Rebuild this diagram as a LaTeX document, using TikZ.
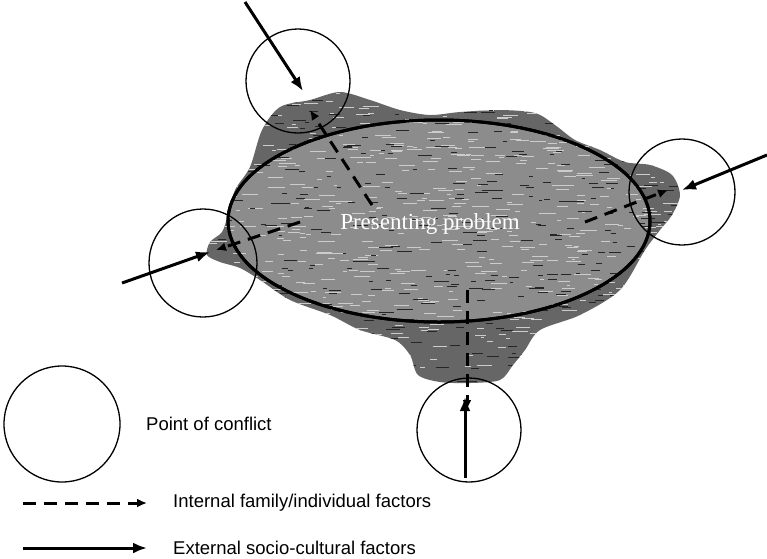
\documentclass[tikz,border=0pt]{standalone}
\usepackage{fontspec}
\setmainfont{Liberation Sans}
\newfontfamily\probfont{Liberation Serif}
\usetikzlibrary{arrows.meta,shapes.geometric}

\tikzset{
  conflict/.style={circle, draw, line width=1.3pt, minimum size=#1, inner sep=0pt},
  external/.style={line width=3pt, -{Latex[length=14pt,width=11pt]}},
  internal/.style={line width=3pt, dash pattern=on 13pt off 8pt, -{Latex[length=10pt,width=9pt]}},
  legendtext/.style={anchor=west, inner sep=0pt, font=\fontsize{18.5}{22}\selectfont},
}

\begin{document}
\begin{tikzpicture}[x=1pt,y=-1pt]
    \useasboundingbox[fill=white] (0,0) rectangle (767,558);

    % the problem area
    \def\blobpath{plot[smooth cycle, tension=0.5] coordinates {
      (250,167) (262,130) (280,107) (310,100) (340,92) (370,100) (400,110)
      (430,115) (460,112) (500,110) (535,113) (555,125) (575,140) (600,150)
      (625,162) (650,165) (672,175) (680,195) (672,215) (660,230) (645,250)
      (620,290) (580,315) (540,330) (525,350) (513,365) (500,380) (470,383)
      (440,382) (418,375) (410,355) (395,340) (360,330) (330,315) (290,300)
      (260,280) (240,268) (220,262) (207,255) (210,242) (222,232) (228,215)
      (235,190)}}
    \fill[black!60] \blobpath;
    \node[ellipse, draw, line width=3pt, fill=black!45, minimum width=422pt,
          minimum height=202pt] (problem) at (439,221) {};
    % scanned look
    \begin{scope}
      \clip \blobpath;
      \pgfmathsetseed{11}
      \foreach \i in {1,...,700} {
        \pgfmathsetmacro{\sx}{205+rnd*480}
        \pgfmathsetmacro{\sy}{90+rnd*295}
        \pgfmathsetmacro{\sl}{3+rnd*14}
        \draw[white!80!black, line width=0.9pt] (\sx,\sy) -- ++(\sl,0);
      }
      \foreach \i in {1,...,400} {
        \pgfmathsetmacro{\sx}{205+rnd*480}
        \pgfmathsetmacro{\sy}{90+rnd*295}
        \pgfmathsetmacro{\sl}{3+rnd*12}
        \draw[black!85, line width=0.9pt] (\sx,\sy) -- ++(\sl,0);
      }
    \end{scope}
    \draw[line width=3pt] (problem.center) ellipse [x radius=211pt, y radius=101pt];
    \node[text=white, font=\probfont\fontsize{23}{26}\selectfont] (problemtext)
          at (430,224) {Presenting problem};

    % points of conflict
    \node[conflict=104pt] (ctop) at (298,81) {};
    \node[conflict=108pt] (cleft) at (203,263) {};
    \node[conflict=106pt] (cright) at (682,192) {};
    \node[conflict=104pt] (cbottom) at (469,430) {};

    % internal factors
    \coordinate (itop0) at (372,205);  \coordinate (itop1) at (310,110);
    \coordinate (ileft0) at (300,222); \coordinate (ileft1) at (216,250);
    \coordinate (iright0) at (585,222); \coordinate (iright1) at (668,190);
    \coordinate (ibot0) at (467,290);  \coordinate (ibot1) at (467,410);
    \draw[internal] (itop0) -- (itop1);
    \draw[internal] (ileft0) -- (ileft1);
    \draw[internal] (iright0) -- (iright1);
    \draw[internal] (ibot0) -- (ibot1);

    % external factors
    \coordinate (etop) at (245,2);
    \coordinate (eleft) at (122,283);
    \coordinate (eright) at (767,155);
    \coordinate (ebot) at (465,478);
    \coordinate (etop1) at (303,91);
    \coordinate (eleft1) at (210,252);
    \coordinate (eright1) at (682,190);
    \coordinate (ebot1) at (465,397);
    \draw[external] (etop) -- (etop1);
    \draw[external] (eleft) -- (eleft1);
    \draw[external] (eright) -- (eright1);
    \draw[external] (ebot) -- (ebot1);

    % legend
    \node[conflict=116pt] (lconflict) at (62,424) {};
    \node[legendtext] (lconflicttext) at (146,424) {Point of conflict};
    \coordinate (lin0) at (23,503);  \coordinate (lin1) at (147,503);
    \coordinate (lex0) at (23,548);  \coordinate (lex1) at (147,548);
    \draw[internal] (lin0) -- (lin1);
    \draw[external] (lex0) -- (lex1);
    \node[legendtext] (lintext) at (173,503) {Internal family/individual factors};
    \node[legendtext] (lextext) at (173,548) {External socio-cultural factors};
\end{tikzpicture}
\end{document}
